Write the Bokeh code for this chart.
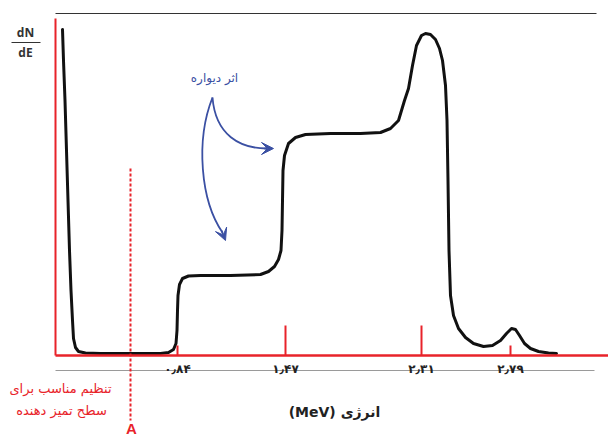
from bokeh.plotting import figure
from bokeh.models import Range1d, Arrow, VeeHead
from bokeh.core.properties import value
from bokeh.embed import file_html
from bokeh.resources import INLINE

# ---- data (channel units; counts in arbitrary units) ----
channel = [7, 8, 9.5, 11, 12.5, 14, 15.5, 17, 18, 20, 23, 30, 45, 75, 105, 113, 118,
           120.5, 121.5, 122, 122.5, 124, 127, 133, 145, 175, 205, 213, 219, 223, 225.5,
           226.5, 227, 227.5, 229, 233, 240, 250, 275, 305, 325, 335, 343, 349, 353, 357,
           361, 366, 370, 375, 380, 384, 387, 390, 391.5, 392.5, 393.5, 395, 398, 403,
           410, 418, 428, 437, 445, 451, 456, 460, 464, 469, 475, 483, 493, 501]
dnde = [326, 295, 255, 205, 155, 105, 65, 35, 17, 8, 4, 2.5, 2, 2, 2, 3, 6,
        12, 25, 45, 60, 71, 77, 79.5, 80, 80, 81, 84, 89, 96, 105,
        125, 155, 185, 200, 212, 218, 221, 222, 222, 223, 227, 235, 255, 267, 290,
        310, 320, 322, 321, 316, 307, 295, 270, 235, 175, 105, 60, 40, 27,
        18, 12, 9, 10, 15, 22, 27, 26, 20, 12, 7, 4, 2.5, 2]

tick_pos = [122, 230, 366, 455]
tick_len = [10, 30, 30, 10]
tick_labels = ["۰٫۸۴", "۱٫۴۷", "۲٫۳۱", "۲٫۷۹"]

threshold_ch = 75          # discriminator level A
x_max, y_max = 553, 342

RED = "#e8232a"
BLUE = "#3b50a3"
PERSIAN = value("DejaVu Sans")

p = figure(width=608, height=437, x_range=Range1d(-55, 553), y_range=Range1d(-82, 355),
           output_backend="svg", toolbar_location=None, min_border=0,
           x_axis_location=None, y_axis_location=None)
p.grid.visible = False
p.outline_line_color = None
p.background_fill_color = "white"
p.border_fill_color = "white"

# frame lines
p.segment(x0=[0], y0=[y_max], x1=[541], y1=[y_max], line_color="#333333", line_width=1)
p.segment(x0=[0], y0=[337], x1=[0], y1=[0], line_color=RED, line_width=2)
p.segment(x0=[0], y0=[-15], x1=[539], y1=[-15], line_color="#9a9a9a", line_width=1)

# spectrum
p.line(channel, dnde, line_color="#111111", line_width=3, line_join="round", line_cap="round")

# baseline and ticks
p.segment(x0=[0], y0=[0], x1=[x_max], y1=[0], line_color=RED, line_width=2.5)
p.segment(x0=tick_pos, y0=[0] * len(tick_pos), x1=tick_pos, y1=tick_len,
          line_color=RED, line_width=2)
p.text(x=tick_pos, y=[-13] * len(tick_pos), text=tick_labels, text_font=PERSIAN,
       text_font_size="12px", text_font_style="bold", text_color="#222222",
       text_align="center", text_baseline="middle")

# threshold line A
p.segment(x0=[threshold_ch], y0=[187], x1=[threshold_ch], y1=[-65], line_color=RED,
          line_width=2, line_dash="3 2")
p.text(x=[threshold_ch + 1], y=[-73], text=["A"], text_font=value("Liberation Sans"),
       text_font_size="15px", text_font_style="bold", text_color=RED,
       text_align="center", text_baseline="middle")
p.text(x=[5, 6], y=[-33, -55], text=["تنظیم مناسب برای", "سطح تمیز دهنده"],
       text_font=PERSIAN, text_font_size="13px", text_color=RED,
       text_align="center", text_baseline="middle")

# axis title
p.text(x=[279], y=[-56], text=["(MeV) انرژی"], text_font=PERSIAN,
       text_font_size="14px", text_font_style="bold", text_color="#222222",
       text_align="center", text_baseline="middle")

# dN/dE
p.text(x=[-30, -30], y=[323, 303], text=["dN", "dE"], text_font=value("Open Sans"),
       text_font_size="12px", text_font_style="bold", text_color="#333333",
       text_align="center", text_baseline="middle")
p.segment(x0=[-44], y0=[313], x1=[-15], y1=[313], line_color="#333333", line_width=1)

# wall effect annotation
p.text(x=[159], y=[278], text=["اثر دیواره"], text_font=PERSIAN, text_font_size="12px",
       text_color=BLUE, text_align="center", text_baseline="middle")
p.bezier(x0=[157, 157], y0=[258, 258], x1=[211, 167], y1=[207, 123],
         cx0=[160, 140], cy0=[220, 215], cx1=[185, 145], cy1=[207, 155],
         line_color=BLUE, line_width=1.8)
p.add_layout(Arrow(end=VeeHead(size=12, fill_color=BLUE, line_color=BLUE),
                   x_start=209, y_start=207, x_end=218, y_end=207, line_color=BLUE,
                   line_width=1.8))
p.add_layout(Arrow(end=VeeHead(size=12, fill_color=BLUE, line_color=BLUE),
                   x_start=166, y_start=125, x_end=170, y_end=115, line_color=BLUE,
                   line_width=1.8))

open("out.html", "w").write(file_html(p, INLINE))
